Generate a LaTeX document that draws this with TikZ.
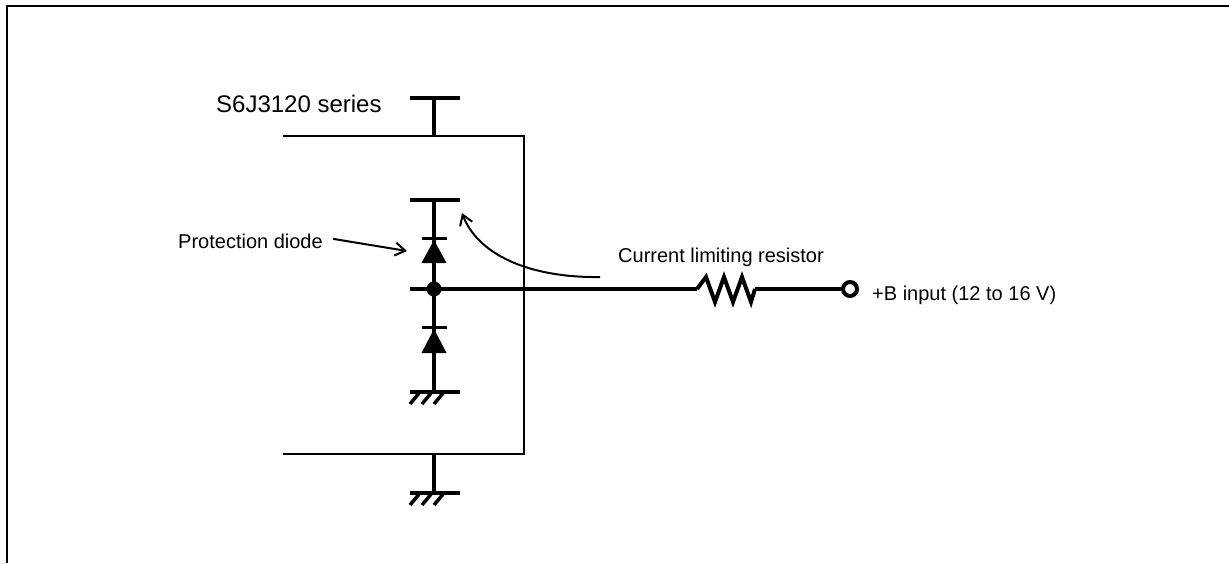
\documentclass[tikz,border=0pt]{standalone}
\usepackage{fontspec}
\setmainfont{Liberation Sans}
\usetikzlibrary{arrows.meta,positioning,calc}

\begin{document}
\begin{tikzpicture}[x=1pt,y=-1pt,
        wire/.style={line width=4pt},
        boxline/.style={line width=2pt},
        lbl/.style={font=\fontsize{20}{24}\selectfont, inner sep=0pt, anchor=base west},
        pointer/.style={line width=2pt, -{Straight Barb[length=10pt,width=13pt,line width=2pt]}},
        terminal/.style={circle, draw, line width=4pt, fill=white, minimum size=14pt, inner sep=0pt}]
        \useasboundingbox (0,0) rectangle (1229,563);

        % Frame (top and left edges)
        \draw[line width=2pt] (7,563) -- (7,6) -- (1229,6);

        % Chip outline
        \draw[boxline] (283,136) -- (524,136) -- (524,454) -- (283,454);

        % Key points
        \coordinate (vddtop) at (434,98);
        \coordinate (chiptop) at (434,136);
        \coordinate (vddin) at (434,200);
        \coordinate (tap) at (434,289);
        \coordinate (tapleft) at (410,289);
        \coordinate (gndin) at (434,392);
        \coordinate (chipbot) at (434,454);
        \coordinate (gndout) at (434,493);
        \coordinate (rin) at (697,289);
        \coordinate (rout) at (755,289);

        % Supply pin on top
        \draw[wire] (chiptop) -- (vddtop);
        \draw[wire] ($(vddtop)+(-24,0)$) -- ($(vddtop)+(26,0)$);

        % Inner supply bar and diode string
        \draw[wire] ($(vddin)+(-24,0)$) -- ($(vddin)+(26,0)$);
        \draw[wire] (vddin) -- (gndin);

        % Upper diode
        \draw[line width=3pt] ($(tap)+(-12,-51)$) -- ($(tap)+(13,-51)$);
        \fill ($(tap)+(0,-49)$) -- ($(tap)+(-12.5,-26)$) -- ($(tap)+(12.5,-26)$) -- cycle;

        % Lower diode
        \draw[line width=3pt] ($(tap)+(-12,38)$) -- ($(tap)+(13,38)$);
        \fill ($(tap)+(0,40)$) -- ($(tap)+(-12.5,64)$) -- ($(tap)+(12.5,64)$) -- cycle;

        % Junction
        \fill (tap) circle (7.5);

        % Inner ground
        \draw[wire] ($(gndin)+(-24,0)$) -- ($(gndin)+(26,0)$);
        \foreach \dx in {-14,-2,10}
            \draw[line width=3.5pt] ($(gndin)+(\dx,0)$) -- ++(-10,12);

        % Ground pin at the bottom
        \draw[wire] (chipbot) -- (gndout);
        \draw[wire] ($(gndout)+(-24,0)$) -- ($(gndout)+(26,0)$);
        \foreach \dx in {-14,-2,10}
            \draw[line width=3.5pt] ($(gndout)+(\dx,0)$) -- ++(-10,12);

        % Input line with resistor and terminal
        \node[terminal] (term) at (850,289) {};
        \draw[wire] (tapleft) -- (rin);
        \draw[wire, line join=miter] (rin) -- ++(9,-12) -- ++(9,25) -- ++(9,-25) -- ++(9,25) -- ++(9,-25) -- ++(9,25) -- (rout);
        \draw[wire] (rout) -- (term.west);

        % Labels
        \node[lbl, font=\fontsize{24}{28}\selectfont] (chiplbl) at (216,112) {S6J3120 series};
        \node[lbl] (pdlbl) at (178,248) {Protection diode};
        \node[lbl] (rlbl) at (618,262) {Current limiting resistor};
        \node[lbl] (inlbl) at (872,300) {+B input (12 to 16 V)};

        % Pointers
        \coordinate (pdtip) at (407,251);
        \draw[pointer] ($(pdlbl.east)+(10,-2)$) -- (pdtip);
        \coordinate (rstart) at (600,277);
        \coordinate (rtip) at (462,213);
        \draw[pointer] (rstart) .. controls (530,278) and (478,255) .. (rtip);
    \end{tikzpicture}
\end{document}
